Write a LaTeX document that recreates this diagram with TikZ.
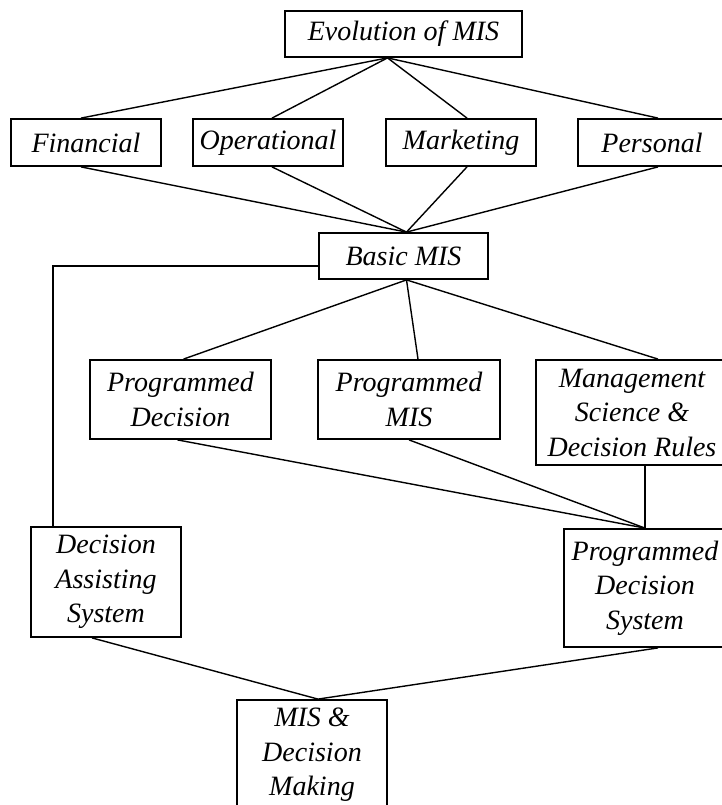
\documentclass[tikz,border=0pt]{standalone}
\usepackage{fontspec}
\setmainfont{Liberation Serif}

\begin{document}
\begin{tikzpicture}[x=1pt, y=-1pt, line width=1.4pt,
        main/.style = {draw, rectangle, line width=1.8pt, inner sep=0pt, align=center, font=\itshape\fontsize{28}{34.5}\selectfont}]
        \path[use as bounding box, clip] (0,0) rectangle (722,805);
        \node[main, minimum width=237pt, minimum height=46pt] (evo) at (403.5,34) {Evolution of MIS};
        \node[main, minimum width=150pt, minimum height=47pt] (fin) at (86,142.5) {Financial};
        \node[main, minimum width=150pt, minimum height=47pt] (ops) at (268,142.5) {Operational};
        \node[main, minimum width=150pt, minimum height=47pt] (mkt) at (461,142.5) {Marketing};
        \node[main, minimum width=148pt, minimum height=47pt] (per) at (652,142.5) {Personal};
        \node[main, minimum width=169pt, minimum height=46pt] (basic) at (403.5,256) {Basic MIS};
        \node[main, minimum width=181pt, minimum height=79pt] (pd) at (180.5,399.5) {Programmed\\Decision};
        \node[main, minimum width=182pt, minimum height=79pt] (pmis) at (409,399.5) {Programmed\\MIS};
        \node[main, minimum width=192pt, minimum height=105pt] (msdr) at (632,412.5) {Management\\Science \&\\Decision Rules};
        \node[main, minimum width=150pt, minimum height=110pt] (das) at (106,582) {Decision\\Assisting\\System};
        \node[main, minimum width=162pt, minimum height=118pt] (pds) at (645,588) {Programmed\\Decision\\System};
        \node[main, minimum width=150pt, minimum height=110pt] (mdm) at (312,755) {MIS \&\\Decision\\Making};
        \draw ([xshift=-16pt]evo.south) -- ([xshift=-5pt]fin.north);
        \draw ([xshift=-16pt]evo.south) -- ([xshift=4pt]ops.north);
        \draw ([xshift=-16pt]evo.south) -- ([xshift=6pt]mkt.north);
        \draw ([xshift=-16pt]evo.south) -- ([xshift=6pt]per.north);
        \draw ([xshift=-5pt]fin.south) -- ([xshift=3pt]basic.north);
        \draw ([xshift=4pt]ops.south) -- ([xshift=3pt]basic.north);
        \draw ([xshift=6pt]mkt.south) -- ([xshift=3pt]basic.north);
        \draw ([xshift=6pt]per.south) -- ([xshift=3pt]basic.north);
        \draw ([xshift=3pt]basic.south) -- ([xshift=3pt]pd.north);
        \draw ([xshift=3pt]basic.south) -- ([xshift=9pt]pmis.north);
        \draw ([xshift=3pt]basic.south) -- ([xshift=26pt]msdr.north);
        \draw ([yshift=-10pt]basic.west) -| ([xshift=-53pt]das.north);
        \draw ([xshift=-3pt]pd.south) -- (pds.north);
        \draw (pmis.south) -- (pds.north);
        \draw (msdr.south -| pds.north) -- (pds.north);
        \draw ([xshift=-14pt]das.south) -- ([xshift=6pt]mdm.north);
        \draw ([xshift=13pt]pds.south) -- ([xshift=6pt]mdm.north);
    \end{tikzpicture}
\end{document}
